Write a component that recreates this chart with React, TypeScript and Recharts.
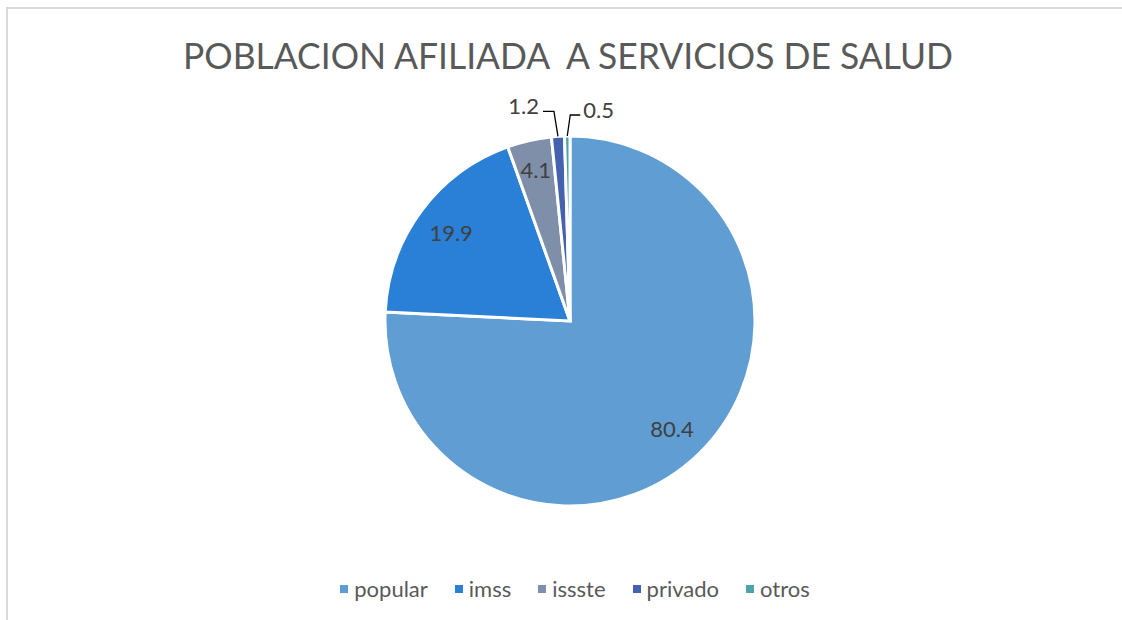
import React from "react";
import { PieChart, Pie, Cell } from "recharts";

const categories = ["popular", "imss", "issste", "privado", "otros"];
const values = [80.4, 19.9, 4.1, 1.2, 0.5];
const colors = ["#5f9dd3", "#2a7fd6", "#7f8faa", "#4462b0", "#4ea2aa"];
const titleText = "POBLACION AFILIADA  A SERVICIOS DE SALUD";

const data = categories.map((name, i) => ({ name, value: values[i] }));

const FONT = "Lato, 'Open Sans', sans-serif";
const RAD = Math.PI / 180;

const renderLabel = (props: any) => {
  const { cx, cy, midAngle, outerRadius, value, index } = props;
  const cos = Math.cos(-midAngle * RAD);
  const sin = Math.sin(-midAngle * RAD);
  if (index < 3) {
    const r = outerRadius * (index === 2 ? 0.84 : 0.8);
    const x = cx + r * cos;
    const y = cy + r * sin;
    return (
      <text x={x} y={y} fill="#404040" fontSize={22} fontFamily={FONT} textAnchor="middle" dominantBaseline="central">
        {value}
      </text>
    );
  }
  const ex = cx + outerRadius * cos;
  const ey = cy + outerRadius * sin;
  if (index === 3) {
    const ey2 = ey - 25;
    const ex2 = ex - 4;
    const hx = ex2 - 11;
    return (
      <g>
        <path d={`M${ex},${ey} L${ex2},${ey2} L${hx},${ey2}`} stroke="#000" strokeWidth={1.3} fill="none" />
        <text x={hx - 4} y={ey2 - 6} fill="#404040" fontSize={22} fontFamily={FONT} textAnchor="end" dominantBaseline="central">
          {value}
        </text>
      </g>
    );
  }
  const ey2 = ey - 21;
  const ex2 = ex + 3;
  const hx = ex2 + 10;
  return (
    <g>
      <path d={`M${ex},${ey} L${ex2},${ey2} L${hx},${ey2}`} stroke="#000" strokeWidth={1.3} fill="none" />
      <text x={hx + 3} y={ey2 - 6} fill="#404040" fontSize={22} fontFamily={FONT} textAnchor="start" dominantBaseline="central">
        {value}
      </text>
    </g>
  );
};

export default function App() {
  return (
    <div style={{ position: "absolute", left: 0, top: 0, width: 1122, height: 620, background: "#fff", overflow: "hidden" }}>
      <div style={{ position: "absolute", left: 6, top: 7, right: -10, bottom: -10, borderTop: "2px solid #d9d9d9", borderLeft: "2px solid #d9d9d9" }} />
      <svg style={{ position: "absolute", left: 0, top: 0 }} width={1122} height={100}>
        <text x={568} y={69} fontSize={36} fill="#595959" fontFamily={FONT} textAnchor="middle" textLength={770} lengthAdjust="spacingAndGlyphs" style={{ whiteSpace: "pre" }}>
          {titleText}
        </text>
      </svg>
      <div style={{ position: "absolute", left: 0, top: 0 }}>
        <PieChart width={1122} height={620} margin={{ top: 0, right: 0, bottom: 0, left: 0 }}>
          <Pie
            data={data}
            dataKey="value"
            nameKey="name"
            cx={570}
            cy={321}
            outerRadius={185}
            startAngle={90}
            endAngle={-270}
            stroke="#ffffff"
            strokeWidth={3}
            label={renderLabel}
            labelLine={false}
            isAnimationActive={false}
          >
            {data.map((d, i) => (
              <Cell key={d.name} fill={colors[i]} />
            ))}
          </Pie>
        </PieChart>
      </div>
      <div style={{ position: "absolute", left: 14, top: 575, width: 1122, display: "flex", justifyContent: "center", alignItems: "center", gap: 27, fontFamily: FONT, fontSize: 22, color: "#595959" }}>
        {categories.map((c, i) => (
          <div key={c} style={{ display: "flex", alignItems: "center" }}>
            <span style={{ display: "inline-block", width: 8, height: 8, background: colors[i], marginRight: 6 }} />
            <span>{c}</span>
          </div>
        ))}
      </div>
    </div>
  );
}
